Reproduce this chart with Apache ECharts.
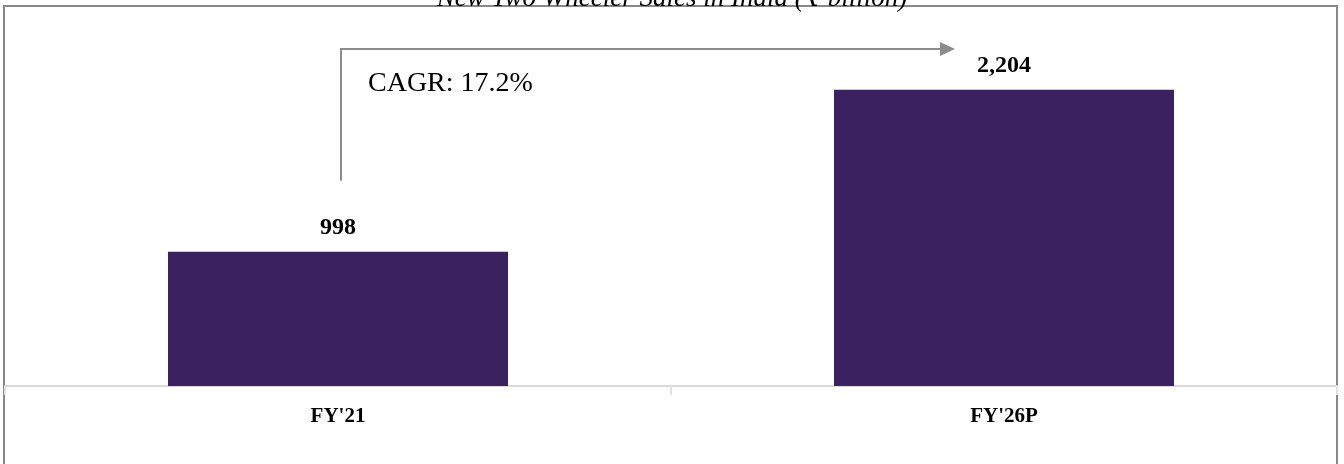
<!DOCTYPE html>
<html>
<head>
<meta charset="utf-8">
<script src="https://cdn.jsdelivr.net/npm/echarts@6/dist/echarts.min.js"></script>
<style>
  html, body { margin: 0; padding: 0; background: #fff; }
  #main { width: 1344px; height: 464px; }
</style>
</head>
<body>
<div id="main"></div>
<script>
var categories = ["FY'21", "FY'26P"];
var sales = [998, 2204];
var cagrText = 'CAGR: 17.2%';
var titleText = 'New Two Wheeler Sales in India (\u20B9 billion)';

var chart = echarts.init(document.getElementById('main'));
var serif = '"Liberation Serif", "DejaVu Serif", serif';

var option = {
  animation: false,
  title: {
    text: titleText,
    left: 'center',
    top: -20,
    textStyle: {
      fontFamily: serif,
      fontStyle: 'italic',
      fontWeight: 'normal',
      fontSize: 27,
      color: '#000'
    }
  },
  grid: {
    left: 5,
    right: 7,
    top: 50,
    bottom: 78
  },
  xAxis: {
    type: 'category',
    data: categories,
    axisLine: {
      lineStyle: { color: '#d9d9d9', width: 2 }
    },
    axisTick: {
      show: true,
      length: 9,
      lineStyle: { color: '#e3e3e3', width: 2 }
    },
    axisLabel: {
      margin: 20,
      fontFamily: serif,
      fontWeight: 'bold',
      fontSize: 21,
      color: '#000'
    }
  },
  yAxis: {
    type: 'value',
    min: 0,
    max: 2500,
    show: false,
    splitLine: { show: false }
  },
  series: [{
    type: 'bar',
    data: sales,
    barWidth: 340,
    itemStyle: { color: '#3c2160' },
    label: {
      show: true,
      position: 'top',
      distance: 12,
      fontFamily: serif,
      fontWeight: 'bold',
      fontSize: 24,
      color: '#000',
      formatter: function (p) {
        return p.value.toLocaleString('en-US');
      }
    }
  }]
};
chart.setOption(option);

// CAGR arrow, anchored to the category positions
var p0 = chart.convertToPixel({ xAxisIndex: 0 }, categories[0]);
var p1 = chart.convertToPixel({ xAxisIndex: 0 }, categories[1]);
var barTop0 = chart.convertToPixel({ yAxisIndex: 0 }, sales[0]);
var xs = p0 + 3;
var yBottom = barTop0 - 71;
var yLine = 49;
var xEnd = p1 - 64;

chart.setOption({
  graphic: [
    {
      type: 'rect',
      shape: { x: 4, y: 6, width: 1333, height: 470 },
      style: { fill: 'none', stroke: '#888', lineWidth: 2 },
      silent: true
    },
    {
      type: 'polyline',
      shape: { points: [[xs, yBottom], [xs, yLine], [xEnd, yLine]] },
      style: { fill: 'none', stroke: '#8c8c8c', lineWidth: 2 },
      silent: true
    },
    {
      type: 'polygon',
      shape: { points: [[xEnd, yLine - 7], [xEnd + 15, yLine], [xEnd, yLine + 7]] },
      style: { fill: '#8c8c8c' },
      silent: true
    },
    {
      type: 'text',
      left: xs + 27,
      top: 70,
      style: {
        text: cagrText,
        fontFamily: serif,
        fontSize: 28,
        fill: '#000'
      },
      silent: true
    }
  ]
});
</script>
</body>
</html>
